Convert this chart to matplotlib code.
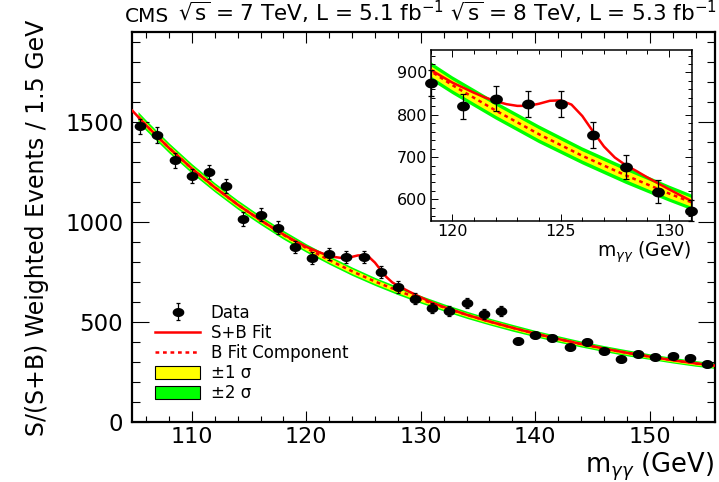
import numpy as np
import matplotlib
matplotlib.use('Agg')
import matplotlib.pyplot as plt
from matplotlib.path import Path
from matplotlib.lines import Line2D
from matplotlib.patches import Patch
from matplotlib.ticker import MultipleLocator

# diphoton mass bin centres (1.5 GeV bins) and weighted event counts
mass = [105.5, 107.0, 108.5, 110.0, 111.5, 113.0, 114.5, 116.0, 117.5, 119.0,
        120.5, 122.0, 123.5, 125.0, 126.5, 128.0, 129.5, 131.0, 132.5, 134.0,
        135.5, 137.0, 138.5, 140.0, 141.5, 143.0, 144.5, 146.0, 147.5, 149.0,
        150.5, 152.0, 153.5, 155.0]
events = [1478, 1434, 1309, 1231, 1250, 1180, 1015, 1037, 971, 875,
          820, 838, 825, 826, 752, 676, 618, 573, 555, 595,
          541, 557, 405, 438, 423, 376, 400, 354, 315, 343,
          327, 329, 323, 289]
errors = [37, 38, 37, 36, 36, 35, 34, 34, 32, 30,
          30, 30, 31, 31, 30, 28, 27, 25, 24, 26,
          24, 24, 15, 15, 15, 14, 14, 14, 13, 13,
          13, 13, 13, 12]

# background-only fit with 1 and 2 sigma half widths
bkg_mass = [105.3, 106, 108, 110, 112, 114, 116, 118, 120, 122, 124, 126, 128,
            130, 132, 134, 136, 138, 140, 142, 144, 146, 148, 150, 152, 154, 155.7]
bkg_fit = [1525, 1483, 1370, 1267, 1173, 1087, 1009, 936, 870, 810, 754, 703, 657,
           614, 574, 537, 503, 472, 443, 416, 391, 368, 347, 328, 310, 294, 283]
band1 = [14, 14, 14, 13, 13, 13, 12, 12, 12, 12, 12, 11, 11,
         11, 10, 10, 10, 9, 9, 9, 8, 8, 8, 8, 8, 8, 8]
band2 = [26, 26, 25, 24, 23, 23, 22, 22, 21, 21, 21, 20, 20,
         19, 18, 18, 17, 17, 16, 16, 15, 15, 15, 14, 14, 14, 14]

# signal + background fit
sb_mass = [104.8, 106, 108, 110, 112, 114, 116, 118, 119, 120, 120.5, 121, 121.5,
           122, 122.5, 123, 123.5, 124, 124.5, 125, 125.5, 126, 126.5, 127, 127.5,
           128, 128.5, 129, 129.5, 130, 131, 132, 134, 136, 138, 140, 142, 144,
           146, 148, 150, 152, 154, 155.7]
sb_fit = [1556, 1483, 1370, 1267, 1173, 1087, 1009, 938, 906, 876, 864, 852, 841,
          832, 825, 821, 821, 826, 833, 834, 824, 797, 760, 725, 699,
          681, 667, 652, 638, 624, 597, 576, 537, 503, 472, 443, 416, 391,
          368, 347, 328, 310, 294, 283]

GREEN = '#00ff00'
YELLOW = '#ffff00'
RED = '#ff0000'
W, H = 719, 482


def fx(px):
    return px / W


def fy(py):
    return 1 - py / H


# ROOT draws the markers slightly wide in this picture
t = np.linspace(0, 2 * np.pi, 60)
oval = Path(np.column_stack([1.35 * np.cos(t), np.sin(t)]))


def draw(ax, m, ev, er, ms, cap, lw):
    b = np.array(bkg_fit)
    ax.fill_between(bkg_mass, b - np.array(band2), b + np.array(band2),
                    color=GREEN, lw=0, zorder=1)
    ax.fill_between(bkg_mass, b - np.array(band1), b + np.array(band1),
                    color=YELLOW, lw=0, zorder=2)
    ax.plot(bkg_mass, bkg_fit, color=RED, lw=lw, ls=(0, (1.5, 1.5)), zorder=3)
    ax.plot(sb_mass, sb_fit, color=RED, lw=lw, zorder=4)
    eb = ax.errorbar(m, ev, yerr=er, fmt='none', ecolor='black', elinewidth=0.9,
                     capsize=cap, capthick=0.9, zorder=5, clip_on=False)
    ax.plot(m, ev, ls='none', marker=oval, ms=ms, color='black', zorder=6,
            clip_on=False)
    return eb


fig = plt.figure(figsize=(7.19, 4.82), dpi=100)

# main panel
ax = fig.add_axes([fx(132.3), fy(422.3), fx(715 - 132.3), (422.3 - 31.7) / H])
eb = draw(ax, mass, events, errors, 7.4, 1.6, 1.8)
ax.set_xlim(104.8, 155.7)
ax.set_ylim(0, 1950)
ax.xaxis.set_major_locator(MultipleLocator(10))
ax.xaxis.set_minor_locator(MultipleLocator(2))
ax.yaxis.set_major_locator(MultipleLocator(500))
ax.yaxis.set_minor_locator(MultipleLocator(100))
ax.tick_params(axis='both', which='both', direction='in', top=True, right=True,
               width=0.8, labelsize=16.5)
ax.tick_params(axis='x', which='major', length=8, pad=3.5, labelsize=16)
ax.tick_params(axis='x', which='minor', length=4)
ax.tick_params(axis='y', which='major', length=12, pad=6.5)
ax.tick_params(axis='y', which='minor', length=5.5)
for s in ax.spines.values():
    s.set_linewidth(1.6)

data_handle = (eb, Line2D([], [], ls='none', marker=oval, ms=7.4, color='black'))
handles = [
    data_handle,
    Line2D([], [], color=RED, lw=1.8),
    Line2D([], [], color=RED, lw=1.8, ls=(0, (1.5, 1.5))),
    Patch(facecolor=YELLOW, edgecolor='black', lw=0.8),
    Patch(facecolor=GREEN, edgecolor='black', lw=0.8),
]
labels = ['Data', 'S+B Fit', 'B Fit Component', '\u00b11 \u03c3', '\u00b12 \u03c3']
ax.legend(handles, labels, loc='upper left', frameon=False, fontsize=12,
          bbox_to_anchor=(fx(155), fy(304)), bbox_transform=fig.transFigure,
          borderpad=0, borderaxespad=0, handlelength=2.7, handletextpad=0.65,
          handleheight=0.85, labelspacing=0.12)

fig.text(fx(714), fy(472.5), r'm$_{\gamma\gamma}$ (GeV)', fontsize=18.5,
         ha='right', va='baseline')
fig.text(fx(37), fy(228), 'S/(S+B) Weighted Events / 1.5 GeV', fontsize=17,
         rotation=90, ha='center', va='center')
fig.text(fx(125), fy(21.5), 'CMS', fontsize=14.5, ha='left', va='baseline')
fig.text(fx(178), fy(21.5),
         r'$\sqrt{\rm s}$ = 7 TeV, L = 5.1 fb$^{-1}$ $\sqrt{\rm s}$ = 8 TeV, L = 5.3 fb$^{-1}$',
         fontsize=15.5, ha='left', va='baseline')

# zoomed inset around the signal region
inset_idx = [i for i, m in enumerate(mass) if 119 <= m <= 131]
ins = fig.add_axes([fx(430.7), fy(221), fx(691.7 - 430.7), (221 - 50) / H])
ins.set_facecolor('white')
draw(ins, [mass[i] for i in inset_idx], [events[i] for i in inset_idx],
     [errors[i] for i in inset_idx], 8.2, 2.5, 1.8)
ins.set_xlim(119, 131.05)
ins.set_ylim(549, 953)
ins.xaxis.set_major_locator(MultipleLocator(5))
ins.xaxis.set_minor_locator(MultipleLocator(1))
ins.yaxis.set_major_locator(MultipleLocator(100))
ins.yaxis.set_minor_locator(MultipleLocator(20))
ins.tick_params(axis='both', which='both', direction='in', top=True, right=True,
                width=0.7, labelsize=11.5, pad=2.5)
ins.tick_params(axis='both', which='major', length=5)
ins.tick_params(axis='both', which='minor', length=2.8)
for s in ins.spines.values():
    s.set_linewidth(1.1)
fig.text(fx(691.7), fy(257), r'm$_{\gamma\gamma}$ (GeV)', fontsize=13.5,
         ha='right', va='baseline')

fig.savefig('out.png', dpi=100)
